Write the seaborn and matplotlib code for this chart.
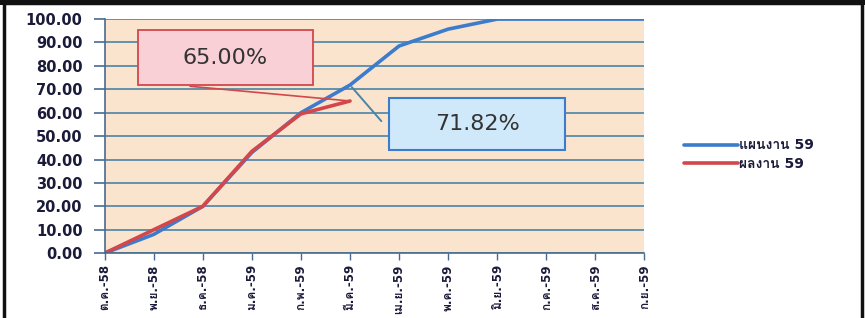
import matplotlib
matplotlib.use('Agg')
import matplotlib.pyplot as plt
from matplotlib import font_manager, ft2font
from matplotlib.patches import Rectangle
import seaborn as sns
import pandas as pd

#%% Data
months = ['ต.ค.-58', 'พ.ย.-58', 'ธ.ค.-58', 'ม.ค.-59', 'ก.พ.-59', 'มี.ค.-59',
          'เม.ย.-59', 'พ.ค.-59', 'มิ.ย.-59', 'ก.ค.-59', 'ส.ค.-59', 'ก.ย.-59']
plan_59 = [0, 8, 20, 43, 60, 71.82, 88.5, 95.7, 100, 100, 100, 100]
actual_59 = [0, 10, 20, 43.5, 59.5, 65.0]
plan_name = 'แผนงาน 59'
actual_name = 'ผลงาน 59'

#%% Thai font lookup
def thai_font():
    for f in font_manager.fontManager.ttflist:
        try:
            if 0x0E01 in ft2font.FT2Font(f.fname).get_charmap():
                return f.name
        except Exception:
            pass
    return None

sns.set_style('white')
tf = thai_font()
fams = ['DejaVu Sans'] if tf is None else ['DejaVu Sans', tf]
plt.rcParams['font.family'] = fams

df = pd.DataFrame({
    'month': months * 2,
    'x': list(range(len(months))) * 2,
    'value': plan_59 + actual_59 + [None] * (len(months) - len(actual_59)),
    'series': [plan_name] * len(months) + [actual_name] * len(months),
})
df = df.dropna()

#%% Plot
fig = plt.figure(figsize=(8.65, 3.18), dpi=100)
ax = fig.add_axes([0.121, 0.204, 0.624, 0.736])
ax.set_facecolor('#fbe4cd')

ax.set_yticks(range(0, 101, 10))
ax.grid(axis='y', color='#4a84a6', linewidth=1.2)
ax.set_axisbelow(True)

sns.lineplot(data=df, x='x', y='value', hue='series',
             palette={plan_name: '#3c7ccc', actual_name: '#d2474c'},
             linewidth=2.6, ax=ax, legend=True)

ax.set_xlim(0, len(months) - 1)
ax.set_ylim(0, 100)
ax.set_xticks(range(len(months)))
ax.set_xticklabels(months, rotation=90, fontsize=8.5, fontweight='bold',
                   color='#1a1a3a')
ax.set_yticklabels([f'{v:.2f}' for v in range(0, 101, 10)],
                   fontsize=10.5, fontweight='bold', color='#1a1a3a')
ax.set_xlabel('')
ax.set_ylabel('')
ax.tick_params(axis='y', left=True, direction='out', length=8,
               color='#4a6a90', width=1.2, pad=8)
ax.tick_params(axis='x', bottom=True, direction='out', length=5,
               color='#4a6a90', width=1, pad=3)
for s in ['top', 'right']:
    ax.spines[s].set_visible(False)
for s in ['left', 'bottom']:
    ax.spines[s].set_color('#4a6a90')
    ax.spines[s].set_linewidth(1.2)

leg = ax.legend(loc='center left', bbox_to_anchor=(1.05, 0.42), frameon=False,
                handlelength=3.9, handletextpad=0.1, labelspacing=0.35,
                prop={'size': 10, 'weight': 'bold'})
for line in leg.get_lines():
    line.set_linewidth(2.6)
for t in leg.get_texts():
    t.set_color('#1a1a3a')

#%% Callouts
last = len(actual_59) - 1
ax.annotate('', xy=(last, actual_59[last]), xytext=(0.153, 0.714),
            textcoords='axes fraction',
            arrowprops=dict(arrowstyle='-', color='#d2474c', lw=1.2))
ax.annotate('', xy=(last, plan_59[last]), xytext=(0.516, 0.555),
            textcoords='axes fraction',
            arrowprops=dict(arrowstyle='-', color='#4a84a6', lw=1.4))

ax.add_patch(Rectangle((0.061, 0.718), 0.325, 0.235, transform=ax.transAxes,
                       facecolor='#f8d0d6', edgecolor='#d2474c', lw=1.3,
                       clip_on=False, zorder=5))
ax.text(0.2235, 0.835, f'{actual_59[last]:.2f}%', transform=ax.transAxes,
        ha='center', va='center', fontsize=16, color='#333333', zorder=6)

ax.add_patch(Rectangle((0.527, 0.44), 0.326, 0.222, transform=ax.transAxes,
                       facecolor='#cfe8fa', edgecolor='#3c7ccc', lw=1.5,
                       clip_on=False, zorder=5))
ax.text(0.69, 0.551, f'{plan_59[last]:.2f}%', transform=ax.transAxes,
        ha='center', va='center', fontsize=16, color='#333333', zorder=6)

#%% Outer frame
fig.patches.append(Rectangle((0.005, -0.01), 0.992, 1.0, transform=fig.transFigure,
                             fill=False, edgecolor='#111111', lw=2.5))
fig.patches.append(Rectangle((0, 0.985), 1, 0.015, transform=fig.transFigure,
                             facecolor='#111111', edgecolor='none'))

fig.savefig('out.png', dpi=100)
